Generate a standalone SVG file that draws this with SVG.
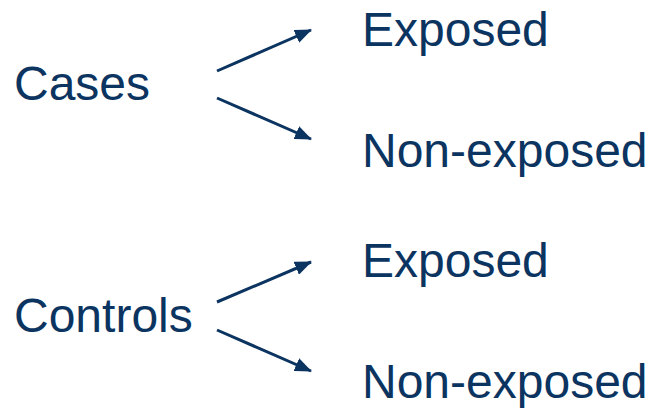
<svg xmlns="http://www.w3.org/2000/svg" width="650" height="408" viewBox="0 0 650 408">
<style>
text{font-family:"Liberation Sans",Arial,sans-serif;font-size:48px;fill:#0b3461}
.c{stroke:#0b3461;stroke-width:3;fill:none;marker-end:url(#ah)}
</style>
<defs>
<marker id="ah" markerUnits="userSpaceOnUse" markerWidth="18" markerHeight="14" refX="16" refY="7" orient="auto" viewBox="0 0 18 14">
<path d="M0,0 L17,7 L0,14 z" fill="#0b3461"/>
</marker>
</defs>
<rect width="650" height="408" fill="#fff"/>
<g id="cases"><text x="14" y="100">Cases</text></g>
<g id="controls"><text x="14" y="332">Controls</text></g>
<g id="cases-exposed"><text x="362" y="46">Exposed</text></g>
<g id="cases-nonexposed"><text x="362" y="167">Non-exposed</text></g>
<g id="controls-exposed"><text x="362" y="277">Exposed</text></g>
<g id="controls-nonexposed"><text x="362" y="398">Non-exposed</text></g>
<g id="connectors">
<line class="c" x1="217" y1="71" x2="311" y2="30"/>
<line class="c" x1="217" y1="98" x2="311" y2="139"/>
<line class="c" x1="217" y1="302" x2="311" y2="262"/>
<line class="c" x1="217" y1="330" x2="311" y2="371"/>
</g>
</svg>
